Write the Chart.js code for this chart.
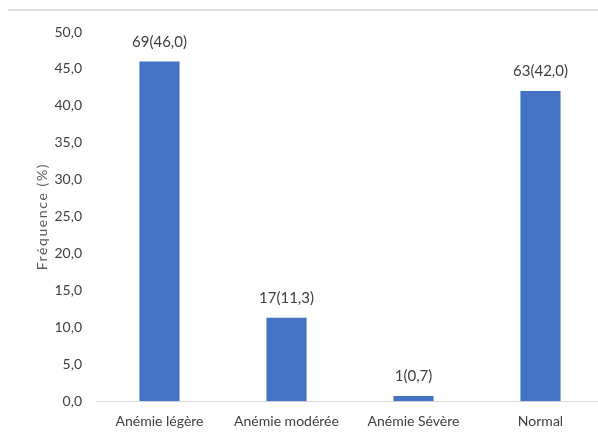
<!DOCTYPE html>
<html><head><meta charset="utf-8">
<script src="https://cdn.jsdelivr.net/npm/chart.js@4.4.1/dist/chart.umd.min.js"></script>
<style>
html,body{margin:0;padding:0;background:#fff;overflow:hidden;width:598px;height:434px;}
#topline{position:absolute;left:8px;top:9px;width:600px;height:2px;background:#dedede;}
#wrap{position:absolute;left:0;top:0;width:604px;height:446px;}
</style></head>
<body>
<div id="topline"></div>
<div id="wrap"><canvas id="c"></canvas></div>
<script>
const categories = ["Anémie légère", "Anémie modérée", "Anémie Sévère", "Normal"];
const counts = [69, 17, 1, 63];
const percents = [46.0, 11.3, 0.7, 42.0];
const yTicks = [0, 5, 10, 15, 20, 25, 30, 35, 40, 45, 50];
const yTitle = 'Fréquence (%)';

const FONT = "Lato, 'Open Sans', sans-serif";
const fmt = v => Number(v).toFixed(1).replace('.', ',');

const labelPlugin = {
  id: 'barLabels',
  afterDatasetsDraw(chart) {
    const ctx = chart.ctx;
    const meta = chart.getDatasetMeta(0);
    ctx.save();
    ctx.font = "15px " + FONT;
    ctx.fillStyle = '#404040';
    ctx.textAlign = 'center';
    ctx.textBaseline = 'bottom';
    meta.data.forEach((bar, i) => {
      ctx.fillText(counts[i] + '(' + fmt(percents[i]) + ')', bar.x, bar.y - 12);
    });
    const ca = chart.chartArea;
    ctx.translate(42, (ca.top + ca.bottom) / 2);
    ctx.rotate(-Math.PI / 2);
    ctx.font = "14px " + FONT;
    ctx.fillStyle = '#595959';
    ctx.textBaseline = 'middle';
    ctx.letterSpacing = '1.6px';
    ctx.fillText(yTitle, 0, 0);
    ctx.restore();
  }
};

new Chart(document.getElementById('c'), {
  type: 'bar',
  data: {
    labels: categories,
    datasets: [{
      data: percents,
      backgroundColor: '#4472C4',
      borderWidth: 0,
      barPercentage: 0.316,
      categoryPercentage: 1.0
    }]
  },
  options: {
    responsive: true,
    maintainAspectRatio: false,
    animation: false,
    layout: { padding: { top: 32, right: 0, bottom: 4, left: 0 } },
    plugins: { legend: { display: false }, tooltip: { enabled: false } },
    scales: {
      x: {
        grid: { display: false, drawTicks: false },
        border: { display: true, color: '#d9d9d9', width: 1 },
        ticks: { color: '#404040', font: { family: FONT, size: 14 }, padding: 12, maxRotation: 0 }
      },
      y: {
        min: 0, max: 50,
        afterBuildTicks: s => { s.ticks = yTicks.map(v => ({ value: v })); },
        afterFit: s => { s.width = 96; },
        grid: { display: false, drawTicks: false },
        border: { display: false },
        ticks: { color: '#404040', font: { family: FONT, size: 14 }, padding: 14, callback: v => fmt(v) }
      }
    }
  },
  plugins: [labelPlugin]
});
</script>
</body></html>
